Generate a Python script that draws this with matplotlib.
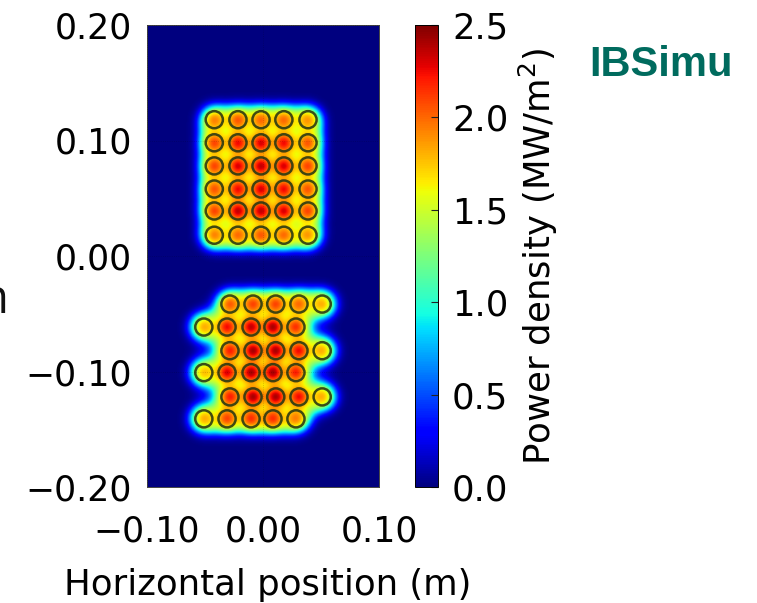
import numpy as np
import matplotlib
matplotlib.use("Agg")
import matplotlib.pyplot as plt
from matplotlib.patches import Circle

W, H = 757, 603

upper_x = [-0.042, -0.0216, -0.0017, 0.018, 0.0388]
upper_y = [0.118, 0.098, 0.078, 0.058, 0.039, 0.018]
upper_peak = [
    [1.95, 2.05, 2.00, 2.00, 1.90],
    [2.10, 2.25, 2.30, 2.25, 2.05],
    [2.10, 2.30, 2.35, 2.30, 2.10],
    [2.05, 2.25, 2.30, 2.25, 2.05],
    [2.10, 2.35, 2.35, 2.30, 2.10],
    [1.95, 2.00, 2.05, 2.00, 1.90],
]
lower_x_a = [-0.0285, -0.0086, 0.011, 0.031, 0.051]
lower_x_b = [-0.051, -0.031, -0.0103, 0.0086, 0.0284]
lower_y = [-0.0416, -0.0615, -0.082, -0.101, -0.122, -0.141]
lower_peak = [
    [2.05, 2.10, 2.10, 2.00, 1.85],
    [1.85, 2.25, 2.35, 2.40, 2.15],
    [2.20, 2.40, 2.40, 2.25, 1.85],
    [1.80, 2.30, 2.40, 2.40, 2.20],
    [2.20, 2.40, 2.40, 2.25, 1.85],
    [1.85, 2.10, 2.15, 2.15, 1.95],
]
plateau_level = 1.5
x_ticks = [-0.10, 0.00, 0.10]
y_ticks = [-0.20, -0.10, 0.00, 0.10, 0.20]
cbar_ticks = [0.0, 0.5, 1.0, 1.5, 2.0, 2.5]

# beamlet list built from the arrays above
bx, by, bp = [], [], []
for j, y in enumerate(upper_y):
    for i, x in enumerate(upper_x):
        bx.append(x); by.append(y); bp.append(upper_peak[j][i])
for j, y in enumerate(lower_y):
    xs = lower_x_a if j % 2 == 0 else lower_x_b
    for i, x in enumerate(xs):
        bx.append(x); by.append(y); bp.append(lower_peak[j][i])
bx, by, bp = map(np.array, (bx, by, bp))

gx = np.linspace(-0.1, 0.1, 300)
gy = np.linspace(-0.2, 0.2, 600)
X, Y = np.meshgrid(gx, gy)
cover = np.zeros_like(X)
spots = np.zeros_like(X)
for x0, y0, p in zip(bx, by, bp):
    r2 = (X - x0) ** 2 + (Y - y0) ** 2
    cover += np.exp(-r2 / (2 * 0.0095 ** 2))
    spots += (p - plateau_level) * np.exp(-r2 / (2 * 0.0058 ** 2))
Z = plateau_level * (1 - np.exp(-(cover / 0.60) ** 2)) + spots

plt.rcParams['font.family'] = 'DejaVu Sans'
fig = plt.figure(figsize=(W / 100, H / 100), dpi=100)

def box(l, t, r, b):
    return [l / W, 1 - b / H, (r - l) / W, (b - t) / H]

FS = 25.0
ax = fig.add_axes(box(147, 25, 379, 487))
im = ax.imshow(Z, origin='lower', extent=[-0.1, 0.1, -0.2, 0.2], cmap='jet',
               vmin=0, vmax=2.5, aspect='auto', interpolation='bilinear')
for x0, y0 in zip(bx, by):
    ax.add_patch(Circle((x0, y0), 0.0074, fill=False, ec='#2b3a12', lw=1.8, alpha=0.9))
ax.set_xlim(-0.1, 0.1)
ax.set_ylim(-0.2, 0.2)
ax.set_xticks(x_ticks)
ax.set_yticks(y_ticks)
ax.set_xticklabels(['\u22120.10', '0.00', '0.10'])
ax.set_yticklabels(['\u22120.20', '\u22120.10', '0.00', '0.10', '0.20'])
ax.tick_params(axis='y', labelsize=FS, length=0, pad=11)
ax.tick_params(axis='x', labelsize=FS, length=0, pad=20)
ax.grid(True, color='k', ls=':', lw=0.6, alpha=0.2)
ax.set_axisbelow(False)
ax.set_xlabel('Horizontal position (m)', fontsize=25.6, labelpad=14, x=0.52)
for s in ax.spines.values():
    s.set_linewidth(0.7)
    s.set_color('#444444')

cax = fig.add_axes(box(415, 25, 438, 487))
cb = fig.colorbar(im, cax=cax)
cb.set_ticks(cbar_ticks)
cb.set_ticklabels(['0.0', '0.5', '1.0', '1.5', '2.0', '2.5'])
cax.tick_params(labelsize=25.6, direction='in', length=5, width=0.8, pad=10, color='#222222')
cb.set_label('Power density (MW/m$^2$)', fontsize=25.6, labelpad=6)
cb.outline.set_linewidth(0.7)

fig.text(589 / W, 1 - 76 / H, 'IBSimu', family='Liberation Sans', weight='bold',
         fontsize=30, color='#006b5e', ha='left', va='baseline')
fig.text(9 / W, 1 - 313 / H, 'n', family='Open Sans', fontsize=34, color='#111111',
         ha='right', va='baseline')

fig.savefig('out.png', dpi=100)
